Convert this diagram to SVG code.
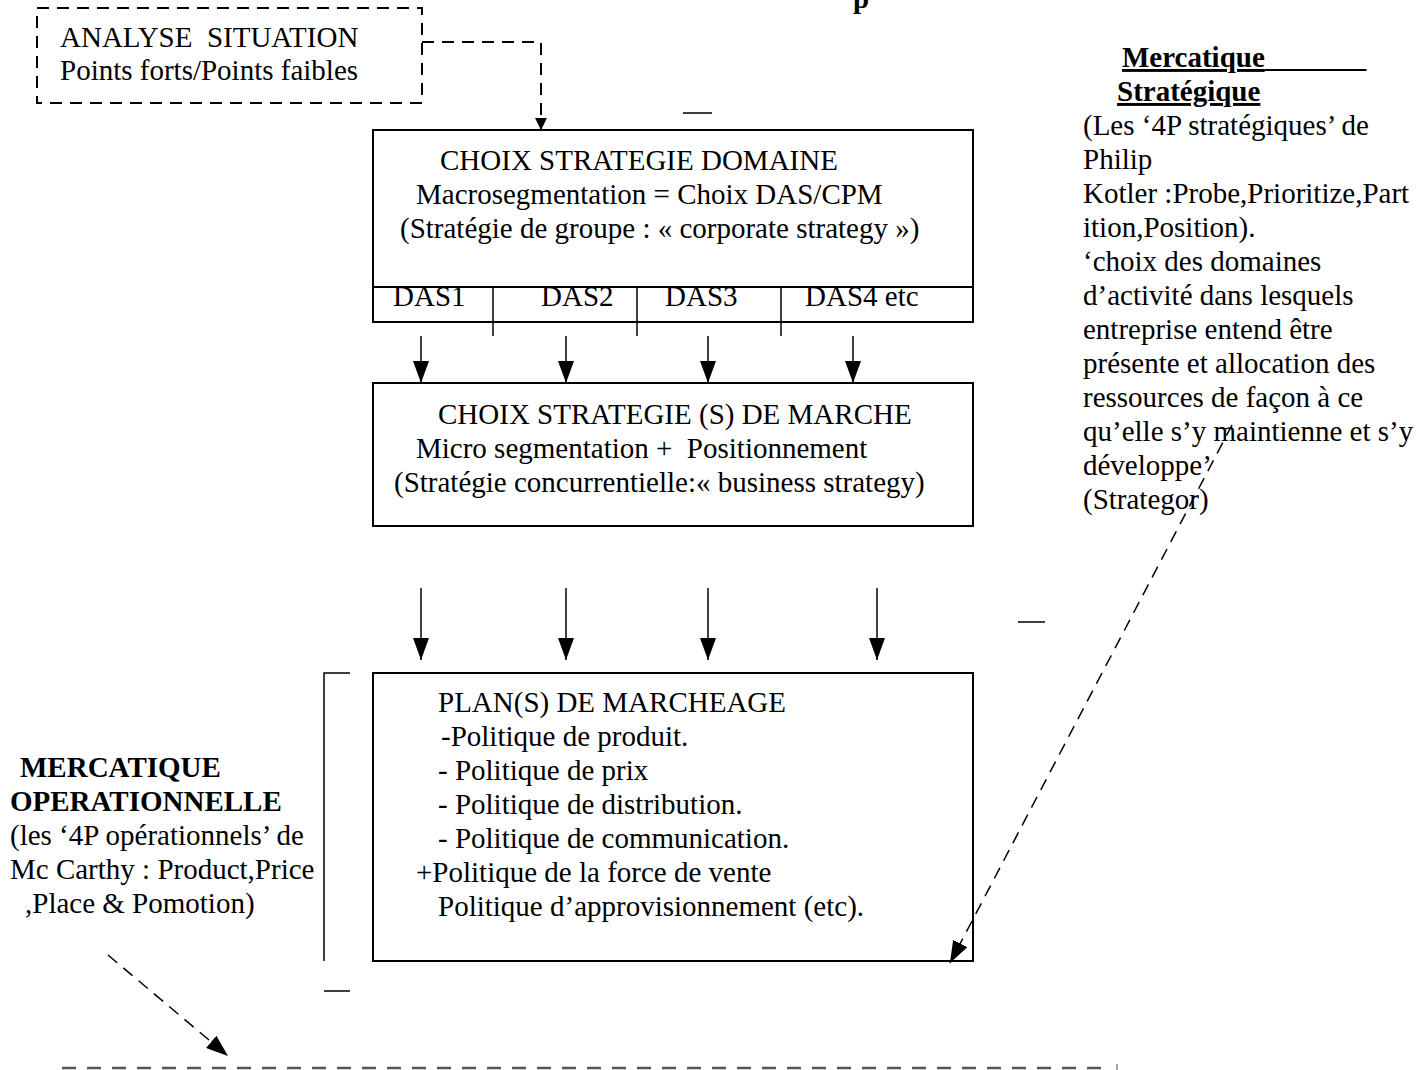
<svg xmlns="http://www.w3.org/2000/svg" width="1420" height="1070" viewBox="0 0 1420 1070">
<defs>
<marker id="ah" viewBox="0 0 10 10" refX="10" refY="5" markerWidth="12" markerHeight="12" markerUnits="userSpaceOnUse" orient="auto"><path d="M0,0 L10,5 L0,10 z" fill="#000"/></marker>
<marker id="ahb" viewBox="0 0 10 10" refX="10" refY="5" markerWidth="22" markerHeight="16" markerUnits="userSpaceOnUse" orient="auto" preserveAspectRatio="none"><path d="M0,0 L10,5 L0,10 z" fill="#000"/></marker>
</defs>
<style>
text{font-family:"Liberation Serif","Times New Roman",serif;font-size:29px;fill:#000}
.b{font-weight:bold}
.box{fill:none;stroke:#000;stroke-width:2}
.ln{stroke:#000;stroke-width:1.5;fill:none}
.dash{stroke:#000;stroke-width:2;fill:none;stroke-dasharray:12 8}
.arr{stroke:#000;stroke-width:1.5;fill:none;marker-end:url(#ahb)}
</style>
<rect width="1420" height="1070" fill="#fff"/>
<text class="b" x="853" y="8">p</text>
<g id="analyse">
<rect x="37" y="8" width="385" height="95" class="dash"/>
<text x="60" y="47" xml:space="preserve">ANALYSE  SITUATION</text>
<text x="60" y="80">Points forts/Points faibles</text>
</g>
<g id="domaine">
<rect x="373" y="130" width="600" height="192" class="box"/>
<line x1="373" y1="287" x2="973" y2="287" class="box"/>
<text x="440" y="170">CHOIX STRATEGIE DOMAINE</text>
<text x="416" y="204">Macrosegmentation = Choix DAS/CPM</text>
<text x="400" y="238">(Stratégie de groupe : « corporate strategy »)</text>
<text x="393" y="306">DAS1</text>
<text x="541" y="306">DAS2</text>
<text x="665" y="306">DAS3</text>
<text x="805" y="306">DAS4 etc</text>
<line x1="493" y1="287" x2="493" y2="336" class="ln"/>
<line x1="637" y1="287" x2="637" y2="336" class="ln"/>
<line x1="781" y1="287" x2="781" y2="336" class="ln"/>
</g>
<g id="marche">
<rect x="373" y="383" width="600" height="143" class="box"/>
<text x="438" y="424">CHOIX STRATEGIE (S) DE MARCHE</text>
<text x="416" y="458" xml:space="preserve">Micro segmentation +  Positionnement</text>
<text x="394" y="492">(Stratégie concurrentielle:« business strategy)</text>
</g>
<g id="marcheage">
<rect x="373" y="673" width="600" height="288" class="box"/>
<text x="438" y="712">PLAN(S) DE MARCHEAGE</text>
<text x="441" y="746">-Politique de produit.</text>
<text x="438" y="780">- Politique de prix</text>
<text x="438" y="814">- Politique de distribution.</text>
<text x="438" y="848">- Politique de communication.</text>
<text x="416" y="882">+Politique de la force de vente</text>
<text x="438" y="916">Politique d’approvisionnement (etc).</text>
</g>
<g id="operationnelle">
<text class="b" x="20" y="777">MERCATIQUE</text>
<text class="b" x="10" y="811">OPERATIONNELLE</text>
<text x="10" y="845">(les ‘4P opérationnels’ de</text>
<text x="10" y="879">Mc Carthy : Product,Price</text>
<text x="25" y="913">,Place &amp; Pomotion)</text>
<path d="M350,673 H324 V961" class="ln"/>
<line x1="324" y1="991" x2="350" y2="991" class="ln"/>
</g>
<g id="strategique">
<text class="b" x="1122" y="67"><tspan text-decoration="underline">Mercatique</tspan>_______</text>
<text class="b" x="1117" y="101" text-decoration="underline">Stratégique</text>
<text x="1083" y="135">(Les ‘4P stratégiques’ de</text>
<text x="1083" y="169">Philip</text>
<text x="1083" y="203">Kotler :Probe,Prioritize,Part</text>
<text x="1083" y="237">ition,Position).</text>
<text x="1083" y="271">‘choix des domaines</text>
<text x="1083" y="305">d’activité dans lesquels</text>
<text x="1083" y="339">entreprise entend être</text>
<text x="1083" y="373">présente et allocation des</text>
<text x="1083" y="407">ressources de façon à ce</text>
<text x="1083" y="441">qu’elle s’y maintienne et s’y</text>
<text x="1083" y="475">développe’</text>
<text x="1083" y="509">(Strategor)</text>
</g>
<g id="connectors">
<path d="M422,42 H541 V130" class="dash" marker-end="url(#ah)"/>
<line x1="683" y1="113" x2="712" y2="113" class="ln"/>
<line x1="421" y1="336" x2="421" y2="383" class="arr"/>
<line x1="566" y1="336" x2="566" y2="383" class="arr"/>
<line x1="708" y1="336" x2="708" y2="383" class="arr"/>
<line x1="853" y1="336" x2="853" y2="383" class="arr"/>
<line x1="421" y1="588" x2="421" y2="660" class="arr"/>
<line x1="566" y1="588" x2="566" y2="660" class="arr"/>
<line x1="708" y1="588" x2="708" y2="660" class="arr"/>
<line x1="877" y1="588" x2="877" y2="660" class="arr"/>
<line x1="1018" y1="622" x2="1045" y2="622" class="ln"/>
<line x1="1232" y1="425" x2="950" y2="963" class="ln" style="stroke-dasharray:12 8" marker-end="url(#ahb)"/>
<line x1="108" y1="955" x2="228" y2="1056" class="ln" style="stroke-dasharray:12 8" marker-end="url(#ahb)"/>
<line x1="62" y1="1068" x2="1112" y2="1068" style="stroke:#555;stroke-width:2.5;stroke-dasharray:14 11"/>
<line x1="1117" y1="1064" x2="1117" y2="1070" style="stroke:#555;stroke-width:1"/>
</g>
</svg>
